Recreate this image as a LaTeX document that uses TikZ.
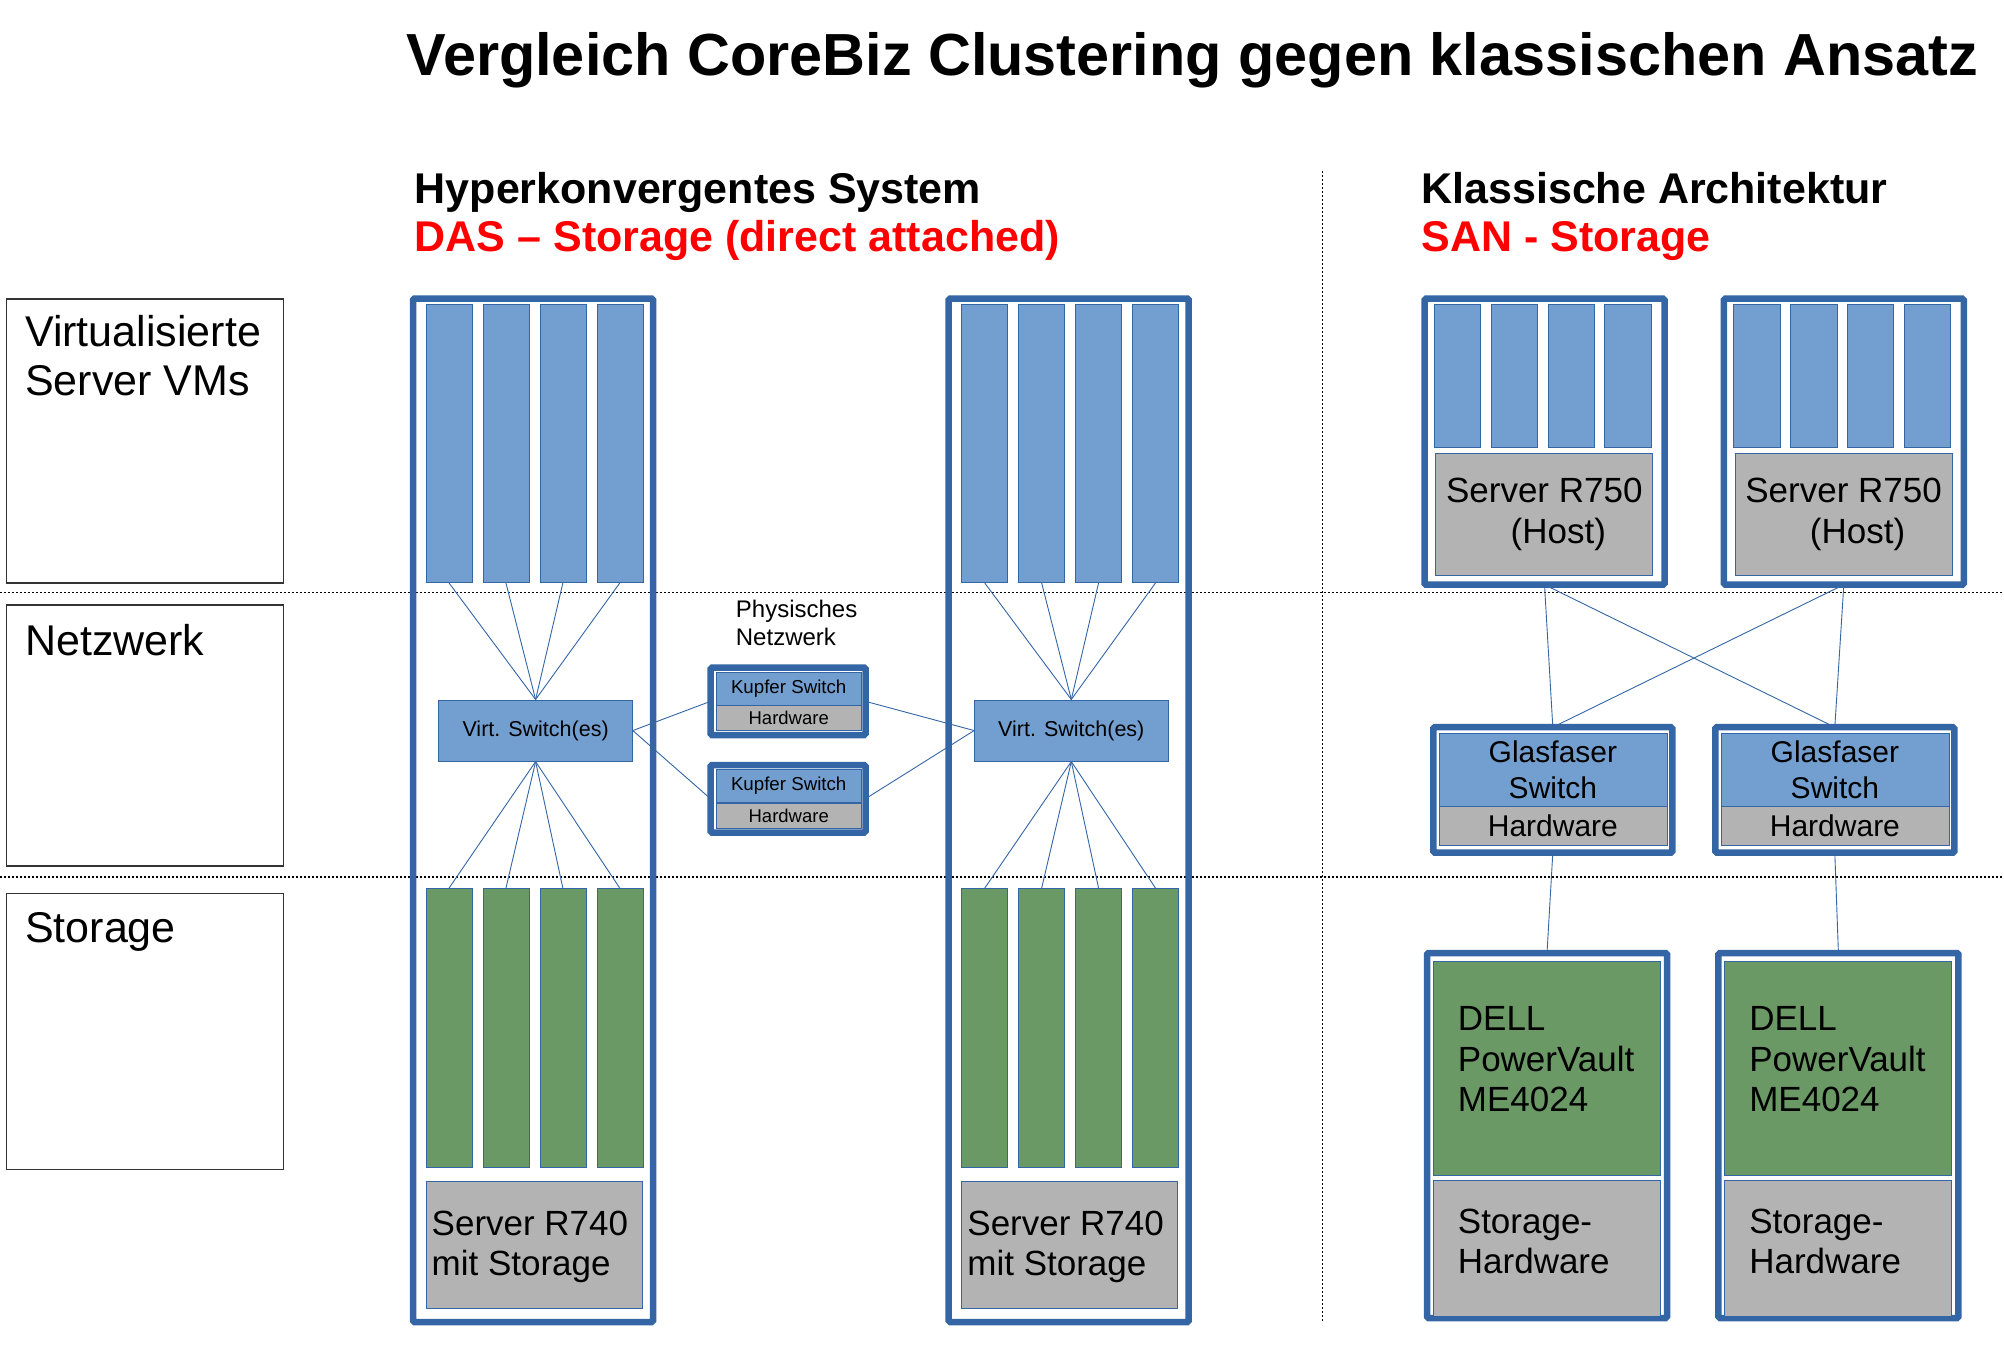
\documentclass[tikz,border=0pt]{standalone}
\usepackage{fontspec}
\setmainfont{Liberation Sans}
\usetikzlibrary{positioning}

\definecolor{frameblue}{HTML}{3465A4}
\definecolor{vmblue}{HTML}{729FCF}
\definecolor{diskgreen}{RGB}{106,153,101}
\definecolor{hwgray}{HTML}{B3B3B3}

\tikzset{
  srvframe/.style={draw=frameblue, line width=6.5pt, rounded corners=1.5pt, inner sep=0pt, outer sep=0pt, anchor=north west},
  part/.style={draw=frameblue, line width=0.8pt, inner sep=0pt, anchor=north west},
  vmbar/.style={part, fill=vmblue, minimum width=46pt},
  diskbar/.style={part, fill=diskgreen, minimum width=46pt, minimum height=279pt},
  hwbox/.style={part, fill=hwgray},
  swbox/.style={part, fill=vmblue},
  boxtext/.style={inner sep=0pt, align=left, font=\fontsize{35}{40.8}\selectfont},
  link/.style={draw=frameblue, line width=0.9pt},
  layerline/.style={draw=black, line width=1.2pt, dash pattern=on 2pt off 2pt},
  lblbox/.style={draw=black!80, line width=1.3pt, anchor=north west, inner sep=0pt, minimum width=277pt},
  lbltext/.style={font=\fontsize{43}{49}\selectfont, align=left, inner sep=0pt},
  head/.style={anchor=base west, inner sep=0pt, font=\bfseries\fontsize{43}{49}\selectfont}
}

\begin{document}
\begin{tikzpicture}[x=1pt, y=-1pt]
\useasboundingbox (0,0) rectangle (2004,1356);

% Ebenen
\draw[layerline] (0,592.5) -- (2004,592.5);
\draw[layerline] (0,877) -- (2004,877);
\draw[layerline] (1322.5,171) -- (1322.5,1322);

% Titel
\node[anchor=base west, inner sep=0pt, font=\bfseries\fontsize{59.4}{68}\selectfont] (title) at (406.5,76) {Vergleich CoreBiz Clustering gegen klassischen Ansatz};
\node[head] (hcihead) at (414.6,203.3) {Hyperkonvergentes System};
\node[head, text=red] (hcisub) at (414.6,251.7) {DAS – Storage (direct attached)};
\node[head] (sanhead) at (1421.2,203.3) {Klassische Architektur};
\node[head, text=red] (sansub) at (1421.2,251.7) {SAN - Storage};

% Beschriftung links
\node[lblbox, minimum height=284pt] (lblvm) at (5.5,298.4) {};
\node[lblbox, minimum height=261pt] (lblnet) at (5.5,604.3) {};
\node[lblbox, minimum height=276pt] (lblsto) at (5.5,892.5) {};
\node[lbltext, below right=17pt and 19.5pt of lblvm.north west] (lblvmtxt) {Virtualisierte\\Server VMs};
\node[lbltext, below right=20pt and 19.5pt of lblnet.north west] (lblnettxt) {Netzwerk};
\node[lbltext, below right=20pt and 19.5pt of lblsto.north west] (lblstotxt) {Storage};

% Hyperkonvergente Server
\foreach \k/\dx in {1/0, 2/535.7} {
  \node[srvframe, minimum width=240pt, minimum height=1023.5pt] (hci\k) at (413+\dx,298.5) {};
  \foreach \i in {1,...,4} {
    \node[vmbar, minimum height=278pt] (vm\k\i) at (425.5+\dx+57*\i-57,304) {};
    \node[diskbar] (disk\k\i) at (425.5+\dx+57*\i-57,888.3) {};
  }
  \node[swbox, minimum width=193.6pt, minimum height=61.3pt, font=\fontsize{21.5}{25}\selectfont] (vs\k) at (438.4+\dx,699.5) {Virt. Switch(es)};
  \node[hwbox, minimum width=216pt, minimum height=127.6pt] (srv\k) at (425.5+\dx,1180.7) {};
  \node[boxtext, below right=30.5pt and 6pt of srv\k.north west, font=\fontsize{35}{39.3}\selectfont] (srvtxt\k) {Server R740\\mit Storage};
  \foreach \i in {1,...,4} {
    \draw[link] (vm\k\i.south) -- (vs\k.north);
    \draw[link] (disk\k\i.north) -- (vs\k.south);
  }
}

% Physisches Netzwerk
\node[anchor=north west, inner sep=0pt, align=left, font=\fontsize{24}{27.6}\selectfont] (physnet) at (735.7,600) {Physisches\\Netzwerk};
\foreach \k/\y in {1/667.6, 2/765} {
  \node[srvframe, minimum width=155pt, minimum height=67.5pt] (kup\k) at (710.5,\y) {};
  \node[swbox, minimum width=145.4pt, minimum height=33pt, font=\fontsize{18.7}{22}\selectfont] (kupsw\k) at (715.6,\y+4) {Kupfer Switch};
  \node[hwbox, minimum width=145.4pt, minimum height=25pt, font=\fontsize{18.5}{22}\selectfont] (kuphw\k) at (715.6,\y+37.7) {Hardware};
}
\draw[link] (vs1.east) -- (kup1.west);
\draw[link] (vs1.east) -- (kup2.west);
\draw[link] (kup1.east) -- (vs2.west);
\draw[link] (kup2.east) -- (vs2.west);

% Klassische Architektur
\foreach \k/\hx/\gx/\dx in {1/1424.5/1433.3/1427, 2/1723.8/1715.3/1718.4} {
  \node[srvframe, minimum width=240pt, minimum height=286pt] (host\k) at (\hx,298.7) {};
  \foreach \i in {1,...,4}
    \node[vmbar, minimum width=46.5pt, minimum height=143pt] (hvm\k\i) at (\hx+9.4+56.8*\i-56.8,304.1) {};
  \node[hwbox, minimum width=217pt, minimum height=121.3pt, align=center, font=\fontsize{35}{41}\selectfont] (hhw\k) at (\hx+10.9,453.4) {Server R750\\\hspace*{28pt}(Host)};
  \node[srvframe, minimum width=239pt, minimum height=125.5pt] (gf\k) at (\gx,727.2) {};
  \node[swbox, minimum width=228pt, minimum height=73.1pt, align=center, font=\fontsize{30}{35.6}\selectfont] (gfsw\k) at (\gx+5.2,732.7) {Glasfaser\\Switch};
  \node[hwbox, minimum width=228pt, minimum height=39.5pt, font=\fontsize{30}{35}\selectfont] (gfhw\k) at (\gx+5.2,805.8) {Hardware};
  \node[srvframe, minimum width=240pt, minimum height=365pt] (dell\k) at (\dx,953) {};
  \node[part, fill=diskgreen, minimum width=227pt, minimum height=214pt] (me\k) at (\dx+5.7,961) {};
  \node[boxtext, below right=45pt and 25pt of me\k.north west] (metxt\k) {DELL\\PowerVault\\ME4024};
  \node[hwbox, minimum width=227pt, minimum height=135.7pt] (sthw\k) at (\dx+5.7,1180) {};
  \node[boxtext, below right=28.5pt and 25pt of sthw\k.north west] (sthwtxt\k) {Storage-\\Hardware};
}
\draw[link] (host1.south) -- (gf1.north);
\draw[link] (host1.south) -- (gf2.north);
\draw[link] (host2.south) -- (gf1.north);
\draw[link] (host2.south) -- (gf2.north);
\draw[link] (gf1.south) -- (dell1.north);
\draw[link] (gf2.south) -- (dell2.north);

\end{tikzpicture}
\end{document}
